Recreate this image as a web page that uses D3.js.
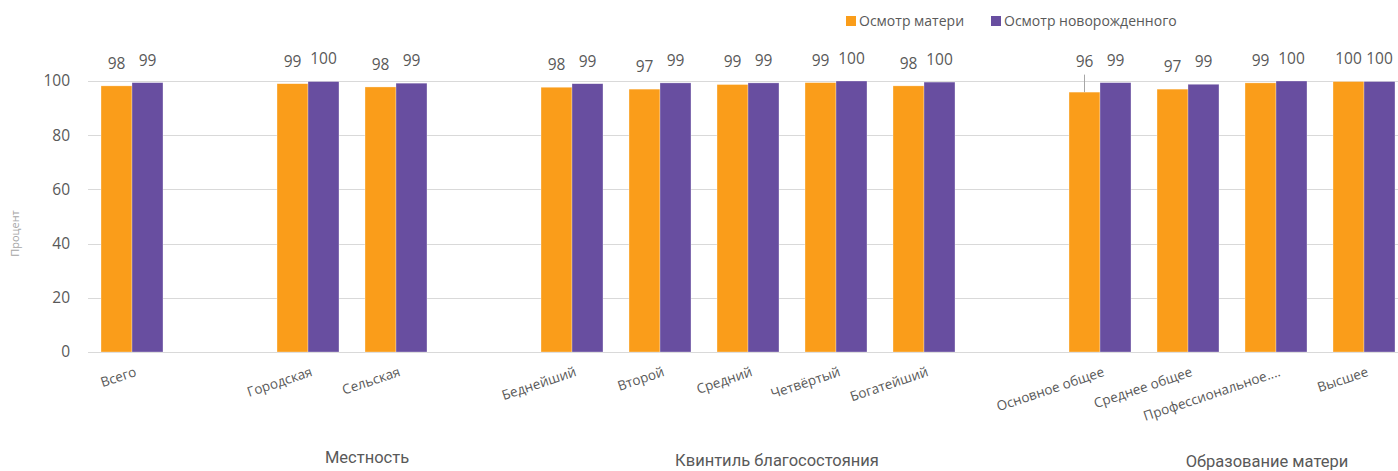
<!DOCTYPE html>
<html lang="ru">
<head>
  <meta charset="UTF-8">
  <title>Осмотр матери и новорожденного</title>
  <script src="https://d3js.org/d3.v7.min.js"></script>
  <style>
    body { margin: 0; background: #fff; overflow: hidden; }
    svg { display: block; }
    text { font-family: "Open Sans", "Noto Sans", sans-serif; fill: #595959; }
    .grid line { stroke: #d9d9d9; stroke-width: 1px; }
    .group-label { font-family: Roboto, "Liberation Sans", sans-serif; font-size: 16.5px; }
  </style>
</head>
<body>
  <script>
    const categories = ["Всего", "Городская", "Сельская", "Беднейший", "Второй", "Средний", "Четвёртый", "Богатейший",
      "Основное общее", "Среднее общее", "Профессиональное....", "Высшее"];
    const groups = ["", "Местность", "Местность", "Квинтиль благосостояния", "Квинтиль благосостояния",
      "Квинтиль благосостояния", "Квинтиль благосостояния", "Квинтиль благосостояния",
      "Образование матери", "Образование матери", "Образование матери", "Образование матери"];
    const seriesNames = ["Осмотр матери", "Осмотр новорожденного"];
    const motherValues = [98.2, 99.0, 97.8, 97.7, 97.0, 98.7, 99.4, 98.2, 95.9, 97.0, 99.3, 99.8];
    const newbornValues = [99.4, 99.8, 99.2, 99.0, 99.3, 99.3, 100, 99.6, 99.4, 98.8, 100, 99.8];
    const yTicks = [0, 20, 40, 60, 80, 100];

    const colors = ["#fa9d1a", "#684ea0"];
    const width = 1398, height = 471;
    // labels that were pulled up with a leader line
    const liftedLabels = { "Основное общее|0": 8 };
    // group caption nudges, as in the original layout
    const groupLayout = {
      "Местность": { dx: 15, y: 457 },
      "Квинтиль благосостояния": { dx: 29, y: 460 },
      "Образование матери": { dx: 35, y: 461.5 }
    };

    // slots: an empty slot is put between groups
    const slots = [];
    categories.forEach((c, i) => {
      if (i > 0 && groups[i] !== groups[i - 1]) slots.push("gap" + i);
      slots.push(c);
    });

    const rows = categories.map((c, i) => ({
      category: c, group: groups[i], values: [motherValues[i], newbornValues[i]]
    }));

    const svg = d3.select("body").append("svg").attr("width", width).attr("height", height);

    const x = d3.scaleBand().domain(slots).range([88, 88 + slots.length * 88]).padding(0);
    const xs = d3.scaleBand().domain([0, 1]).range([0, x.bandwidth()]).paddingInner(0).paddingOuter(0.42);
    const y = d3.scaleLinear().domain([0, 100]).range([352, 81]);

    // gridlines
    svg.append("g").attr("class", "grid")
      .selectAll("line").data(yTicks).join("line")
      .attr("x1", 88).attr("x2", width)
      .attr("y1", d => Math.round(y(d)) + 0.5).attr("y2", d => Math.round(y(d)) + 0.5);

    // y tick labels
    svg.append("g").selectAll("text").data(yTicks).join("text")
      .attr("x", 70).attr("y", d => y(d)).attr("dy", "0.35em")
      .attr("text-anchor", "end").attr("font-size", 15.5)
      .text(d => d);

    svg.append("text")
      .attr("transform", `translate(19,${(y(0) + y(100)) / 2 + 17}) rotate(-90)`)
      .attr("text-anchor", "middle").attr("font-size", 11)
      .style("fill", "#a6a6a6")
      .text("Процент");

    // bars
    const cat = svg.append("g").selectAll("g").data(rows).join("g")
      .attr("transform", d => `translate(${x(d.category)},0)`);

    cat.selectAll("rect").data(d => d.values).join("rect")
      .attr("x", (d, i) => xs(i))
      .attr("width", xs.bandwidth())
      .attr("y", d => y(d))
      .attr("height", d => y(0) - y(d))
      .attr("fill", (d, i) => colors[i])
      .attr("stroke", "#fff").attr("stroke-opacity", 0.5).attr("stroke-width", 0.6);

    // data labels
    cat.each(function (row) {
      const g = d3.select(this);
      row.values.forEach((v, i) => {
        const cx = xs(i) + xs.bandwidth() / 2;
        const lift = liftedLabels[row.category + "|" + i] || 0;
        const ly = y(v) - 22.5 - lift;
        if (lift) {
          g.append("line")
            .attr("x1", cx).attr("x2", cx)
            .attr("y1", ly + 13).attr("y2", y(v))
            .attr("stroke", "#a6a6a6").attr("stroke-width", 1);
        }
        g.append("text")
          .attr("x", cx).attr("y", ly).attr("dy", "0.35em")
          .attr("text-anchor", "middle").attr("font-size", 15.5)
          .text(d3.format(".0f")(v));
      });
    });

    // category labels
    svg.append("g").selectAll("text").data(rows).join("text")
      .attr("transform", d => `translate(${x(d.category) + x.bandwidth() / 2 + 2},366) rotate(-18.5)`)
      .attr("text-anchor", "end").attr("font-size", 13.5)
      .attr("dy", "0.75em")
      .text(d => d.category);

    // group captions
    const groupNames = Object.keys(groupLayout);
    svg.append("g").selectAll("text").data(groupNames).join("text")
      .attr("class", "group-label")
      .attr("x", gname => {
        const members = rows.filter(r => r.group === gname);
        const first = x(members[0].category), last = x(members[members.length - 1].category) + x.bandwidth();
        return (first + last) / 2 + groupLayout[gname].dx;
      })
      .attr("y", gname => groupLayout[gname].y)
      .attr("dy", "0.35em")
      .attr("text-anchor", "middle")
      .text(gname => gname);

    // legend
    const legend = svg.append("g").attr("transform", "translate(846,16)");
    const legendX = [0, 145];
    const li = legend.selectAll("g").data(seriesNames).join("g")
      .attr("transform", (d, i) => `translate(${legendX[i]},0)`);
    li.append("rect").attr("width", 10).attr("height", 10).attr("fill", (d, i) => colors[i]);
    li.append("text").attr("x", 13).attr("y", 5).attr("dy", "0.35em").attr("font-size", 14).text(d => d);
  </script>
</body>
</html>
